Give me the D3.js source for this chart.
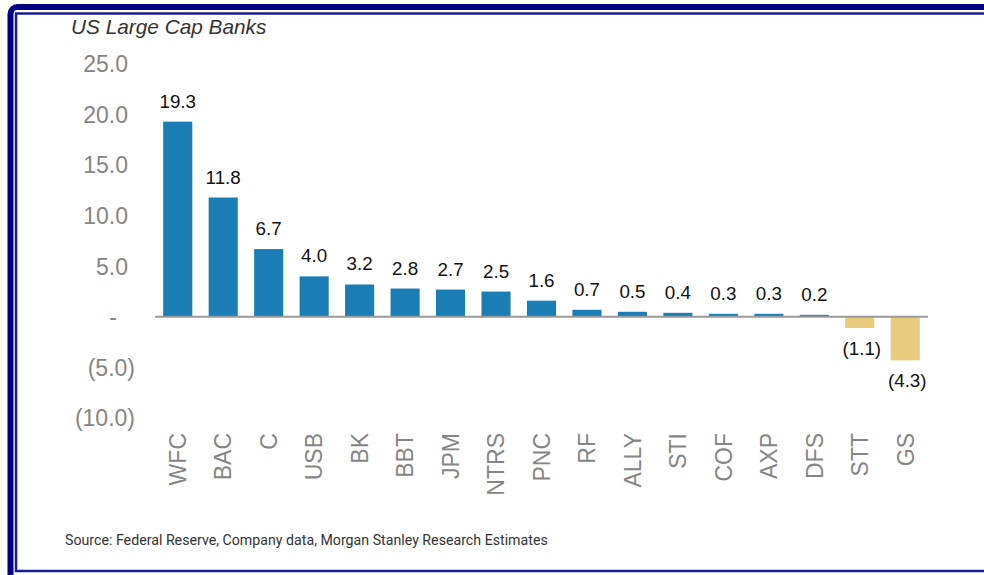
<!DOCTYPE html>
<html>
<head>
<meta charset="utf-8">
<script src="https://cdn.jsdelivr.net/npm/d3@7"></script>
<style>
    html, body { margin: 0; padding: 0; background: #fff; }
    svg { display: block; }
</style>
</head>
<body>
<svg id="chart" width="984" height="575"></svg>
<script>
const banks = ["WFC", "BAC", "C", "USB", "BK", "BBT", "JPM", "NTRS", "PNC", "RF", "ALLY", "STI", "COF", "AXP", "DFS", "STT", "GS"];
const values = [19.3, 11.8, 6.7, 4.0, 3.2, 2.8, 2.7, 2.5, 1.6, 0.7, 0.5, 0.4, 0.3, 0.3, 0.2, -1.1, -4.3];
const yTicks = [25, 20, 15, 10, 5, 0, -5, -10];

const svg = d3.select("#chart");

// frame
svg.append("rect")
    .attr("x", 10.5).attr("y", 7)
    .attr("width", 1000).attr("height", 600)
    .attr("rx", 7)
    .attr("fill", "none")
    .attr("stroke", "#000080")
    .attr("stroke-width", 6);

svg.append("rect")
    .attr("x", 16).attr("y", 13.5)
    .attr("width", 1000).attr("height", 557.5)
    .attr("fill", "none")
    .attr("stroke", "#1c1c90")
    .attr("stroke-width", 2.5);

const x = d3.scaleBand()
    .domain(banks)
    .range([155, 928])
    .paddingInner(0.36)
    .paddingOuter(0.18);

const y = d3.scaleLinear()
    .domain([-10, 25])
    .range([418, 64]);

const fmt = v => v === 0 ? "-" : v < 0 ? `(${d3.format(".1f")(-v)})` : d3.format(".1f")(v);

// title
svg.append("text")
    .attr("x", 71).attr("y", 34)
    .attr("font-family", "Liberation Sans, Arial, sans-serif")
    .attr("font-size", 20.8)
    .attr("font-style", "italic")
    .attr("fill", "#333")
    .text("US Large Cap Banks");

// y axis labels
svg.append("g")
    .selectAll("text")
    .data(yTicks)
    .join("text")
    .attr("x", d => d < 0 ? 135 : d === 0 ? 117 : 128)
    .attr("y", d => y(d))
    .attr("dy", "0.36em")
    .attr("text-anchor", "end")
    .attr("font-family", "Liberation Sans, Arial, sans-serif")
    .attr("font-size", 23)
    .attr("fill", "#858585")
    .text(fmt);

// bars
svg.append("g")
    .selectAll("rect")
    .data(values)
    .join("rect")
    .attr("x", (d, i) => x(banks[i]))
    .attr("y", d => y(Math.max(0, d)))
    .attr("width", x.bandwidth())
    .attr("height", d => Math.abs(y(d) - y(0)))
    .attr("fill", d => d < 0 ? "#e9cb7d" : "#1a7db5");

// zero line
svg.append("line")
    .attr("x1", 155).attr("x2", 928)
    .attr("y1", y(0)).attr("y2", y(0))
    .attr("stroke", "#999")
    .attr("stroke-width", 2);

// value labels
svg.append("g")
    .selectAll("text")
    .data(values)
    .join("text")
    .attr("x", (d, i) => x(banks[i]) + x.bandwidth() / 2 + (d < 0 ? 2 : 0))
    .attr("y", d => d < 0 ? y(d) + 27 : y(d) - 14)
    .attr("text-anchor", "middle")
    .attr("font-family", "Liberation Sans, Arial, sans-serif")
    .attr("font-size", 18.8)
    .attr("fill", "#111")
    .text(fmt);

// category labels
svg.append("g")
    .selectAll("text")
    .data(banks)
    .join("text")
    .attr("transform", d => `translate(${x(d) + x.bandwidth() / 2}, 433) rotate(-90)`)
    .attr("dy", "0.36em")
    .attr("text-anchor", "end")
    .attr("font-family", "Liberation Sans, Arial, sans-serif")
    .attr("font-size", 23)
    .attr("fill", "#858585")
    .text(d => d);

// source
svg.append("text")
    .attr("x", 65).attr("y", 545)
    .attr("font-family", "Roboto, sans-serif")
    .attr("font-size", 14.2)
    .attr("fill", "#333")
    .text("Source: Federal Reserve, Company data, Morgan Stanley Research Estimates");
</script>
</body>
</html>
